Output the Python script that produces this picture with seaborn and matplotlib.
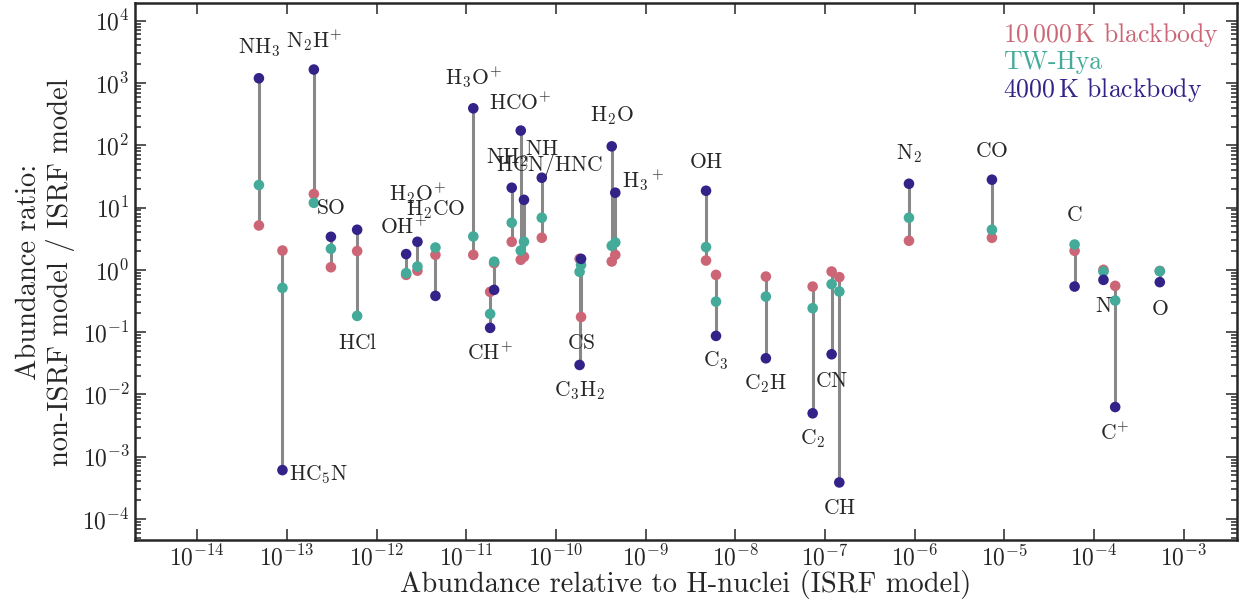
import matplotlib
matplotlib.use("Agg")
import matplotlib.pyplot as plt
import matplotlib.ticker as mticker
from matplotlib.lines import Line2D
import numpy as np
import pandas as pd
import seaborn as sns

# species, ISRF-model abundance, and abundance ratios (non-ISRF / ISRF) for each model
species = ['NH3', 'HC5N', 'N2H+', 'SO', 'HCl', 'OH+', 'H2O+', 'H2CO', 'H3O+', 'CH+',
           'X', 'NH2', 'HCO+', 'HCN/HNC', 'NH', 'C3H2', 'CS', 'H2O', 'H3+', 'OH',
           'C3', 'C2H', 'C2', 'CN', 'CH', 'N2', 'CO', 'C', 'N', 'C+', 'O']
labels = ['NH_3', 'HC_5N', 'N_2H^{\\!+}', 'SO', 'HCl', 'OH^{\\!+}', 'H_2O^{\\!+}', 'H_2CO',
          'H_3O^{\\!+}', 'CH^{\\!+}', '', 'NH_2', 'HCO^{\\!+}', 'HCN/HNC', 'NH', 'C_3H_2', 'CS',
          'H_2O', 'H_3{}^+', 'OH', 'C_3', 'C_2H', 'C_2', 'CN', 'CH', 'N_2', 'CO',
          'C', 'N', 'C^{\\!+}', 'O']
abundance = [4.88e-14, 8.93e-14, 2.0e-13, 3.10e-13, 6.08e-13, 2.14e-12, 2.86e-12, 4.54e-12,
             1.20e-11, 1.85e-11, 2.05e-11, 3.22e-11, 4.06e-11, 4.41e-11, 6.97e-11, 1.84e-10,
             1.91e-10, 4.20e-10, 4.60e-10, 4.73e-9, 6.11e-9, 2.20e-8, 7.31e-8, 1.19e-7,
             1.45e-7, 8.67e-7, 7.30e-6, 6.10e-5, 1.28e-4, 1.73e-4, 5.44e-4]
ratio_10000K = [5.15, 2.04, 16.5, 1.10, 2.0, 0.83, 0.97, 1.74, 1.74, 0.443,
                1.28, 2.82, 1.45, 1.62, 3.27, 1.50, 0.175, 1.36, 1.74, 1.41,
                0.83, 0.78, 0.539, 0.94, 0.763, 2.93, 3.27, 2.02, 1.0, 0.553, 0.96]
ratio_twhya = [23.0, 0.513, 11.9, 2.18, 0.182, 0.885, 1.13, 2.28, 3.43, 0.196,
               1.35, 5.7, 2.04, 2.82, 6.86, 0.93, 1.20, 2.43, 2.75, 2.32,
               0.309, 0.372, 0.242, 0.589, 0.448, 6.86, 4.4, 2.55, 0.94, 0.321, 0.95]
ratio_4000K = [1190, 6.09e-4, 1642, 3.39, 4.40, 1.79, 2.82, 0.382, 392, 0.117,
               0.477, 20.8, 172, 13.3, 30.1, 0.0297, 1.50, 96, 17.3, 18.6,
               0.0869, 0.038, 4.97e-3, 0.0441, 3.86e-4, 24.1, 28, 0.539, 0.69, 6.27e-3, 0.634]
models = ['10$\\,$000$\\,$K blackbody', 'TW-Hya', '4000$\\,$K blackbody']
colors = ['#CC6677', '#44AA99', '#332288']

sns.set_style("ticks")
plt.rcParams.update({
    'font.family': 'serif',
    'font.serif': ['cmr10'],
    'mathtext.fontset': 'cm',
    'axes.formatter.use_mathtext': True,
    'axes.unicode_minus': False,
    'xtick.direction': 'in', 'ytick.direction': 'in',
    'xtick.top': True, 'ytick.right': True,
    'xtick.major.size': 8, 'ytick.major.size': 8,
    'xtick.minor.size': 4, 'ytick.minor.size': 4,
    'xtick.major.width': 1.1, 'ytick.major.width': 1.1,
    'ytick.minor.width': 1.1,
    'axes.linewidth': 1.8,
})

rows = []
for model, ratios in zip(models, [ratio_10000K, ratio_twhya, ratio_4000K]):
    for sp, ab, r in zip(species, abundance, ratios):
        rows.append({'species': sp, 'abundance': ab, 'ratio': r, 'model': model})
df = pd.DataFrame(rows)

fig = plt.figure(figsize=(12.49, 6.03), dpi=100)
ax = fig.add_axes([0.1077, 0.1045, 0.8823, 0.89])
ax.set_xscale('log')
ax.set_yscale('log')

wide = df.pivot_table(index='species', values='ratio', columns='model', aggfunc='first')
lo = wide.min(axis=1)
hi = wide.max(axis=1)
xs = pd.Series(abundance, index=species)
ax.vlines(xs[lo.index], lo, hi, color='#888888', lw=2.2, zorder=2)

sns.scatterplot(data=df, x='abundance', y='ratio', hue='model', hue_order=models,
                palette=colors, s=58, edgecolor='none', linewidth=0, legend=False,
                zorder=3, ax=ax)

# label placement: anchor (top/bottom point), offset in pixels
label_pos = {
    'NH3': ('top', 0, 31), 'HC5N': ('bot', 36, -5), 'N2H+': ('top', 0, 30),
    'SO': ('top', 0, 29), 'HCl': ('bot', 0, -27), 'OH+': ('top', -3, 27),
    'H2O+': ('top', 0, 49), 'H2CO': ('top', 0, 38), 'H3O+': ('top', 0, 31),
    'CH+': ('bot', 0, -25), 'NH2': ('top', -5, 30), 'HCO+': ('top', 0, 28),
    'HCN/HNC': ('top', 26, 34), 'NH': ('top', 0, 28), 'C3H2': ('bot', 0, -26),
    'CS': ('bot', 0, -26), 'H2O': ('top', 0, 31), 'H3+': ('top', 28, 13),
    'OH': ('top', 0, 29), 'C3': ('bot', 0, -25), 'C2H': ('bot', 0, -25),
    'C2': ('bot', 0, -25), 'CN': ('bot', 0, -27), 'CH': ('bot', 0, -26),
    'N2': ('top', 0, 30), 'CO': ('top', 0, 28), 'C': ('top', 0, 29),
    'N': ('bot', 0, -26), 'C+': ('bot', 0, -26), 'O': ('bot', 0, -27),
}
for sp, lab in zip(species, labels):
    if not lab:
        continue
    where, dx, dy = label_pos[sp]
    yv = hi[sp] if where == 'top' else lo[sp]
    ax.annotate('$\\mathrm{' + lab + '}$', (xs[sp], yv), xytext=(dx, dy),
                textcoords='offset pixels', ha='center', va='center', fontsize=15.5)

ax.set_xlim(2.0e-15, 3.9e-3)
ax.set_ylim(4.6e-5, 1.9e4)
ax.xaxis.set_major_locator(mticker.LogLocator(base=10, numticks=30))
ax.xaxis.set_minor_locator(mticker.NullLocator())
ax.yaxis.set_major_locator(mticker.LogLocator(base=10, numticks=30))
ax.yaxis.set_minor_locator(mticker.LogLocator(base=10, subs=np.arange(2, 10), numticks=30))
ax.tick_params(labelsize=17)
ax.set_xlabel('Abundance relative to H-nuclei (ISRF model)', fontsize=20.5, labelpad=0)
ax.set_ylabel('Abundance ratio:\nnon-ISRF model / ISRF model', fontsize=20.5,
              labelpad=5, linespacing=1.2)

handles = [Line2D([], [], lw=0, marker=None) for _ in models]
leg = ax.legend(handles, models, loc='upper right', frameon=False, handlelength=0,
                handletextpad=0, fontsize=18.5, labelspacing=0.05, borderaxespad=0.3)
for txt, c in zip(leg.get_texts(), colors):
    txt.set_color(c)

fig.savefig('out.png', dpi=100)
